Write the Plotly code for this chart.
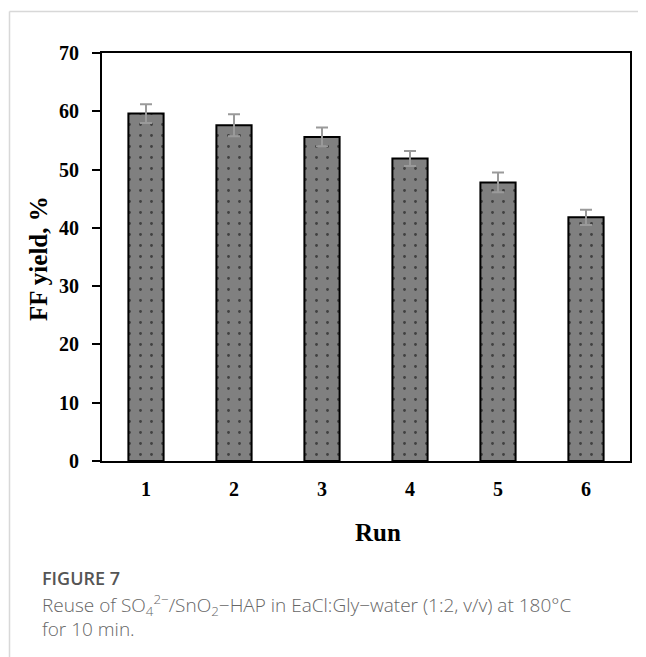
import plotly.graph_objects as go

runs = ["1", "2", "3", "4", "5", "6"]
ff_yield = [59.6, 57.6, 55.6, 51.9, 47.8, 41.8]
ff_err = [1.6, 1.9, 1.6, 1.3, 1.7, 1.3]
y_ticks = [0, 10, 20, 30, 40, 50, 60, 70]

OFF = 8  # page body margin
W, H = 646 - OFF, 657 - OFF
L, R, T, B = 102 - OFF, 630 - OFF, 53 - OFF, 461 - OFF
pw, ph = R - L, B - T


def px(x):
    return (x - OFF - L) / pw


def py(y):
    return (B - (y - OFF)) / ph


fig = go.Figure()
fig.add_trace(go.Bar(
    x=runs, y=ff_yield,
    width=0.4,
    marker=dict(
        color="#808080",
        line=dict(color="#000000", width=2),
        pattern=dict(shape=".", fgcolor="#000000", bgcolor="#808080",
                     size=11, solidity=0.05, fillmode="overlay"),
    ),
    error_y=dict(type="data", array=ff_err, visible=True,
                 color="#9a9a9a", thickness=2, width=6),
    showlegend=False,
))

serif = "Liberation Serif"
fig.update_layout(
    width=W, height=H,
    margin=dict(l=L, r=W - R, t=T, b=H - B),
    paper_bgcolor="white", plot_bgcolor="white",
    xaxis=dict(
        showline=True, linecolor="#000000", linewidth=2, mirror=True,
        ticks="", showgrid=False, zeroline=False,
        tickfont=dict(family=serif, size=20, color="#000000", weight="bold"),
        ticklabelstandoff=9,
    ),
    yaxis=dict(
        range=[0, 70], tickvals=y_ticks,
        showline=True, linecolor="#000000", linewidth=2, mirror=True,
        ticks="outside", ticklen=8, tickwidth=2, tickcolor="#000000",
        showgrid=False, zeroline=False,
        tickfont=dict(family=serif, size=20, color="#000000", weight="bold"),
        ticklabelstandoff=9,
    ),
    font=dict(family=serif),
)

# axis titles
fig.add_annotation(text="<b>Run</b>", x=px(378), y=py(532), xref="paper", yref="paper",
                   showarrow=False, font=dict(family=serif, size=25, color="#000000"),
                   xanchor="center", yanchor="middle")
fig.add_annotation(text="<b>FF yield, %</b>", x=px(38), y=py(259), xref="paper", yref="paper",
                   showarrow=False, textangle=-90,
                   font=dict(family=serif, size=25, color="#000000"),
                   xanchor="center", yanchor="middle")

# caption
cap_font = "Open Sans"
fig.add_annotation(text="FIGURE 7", x=px(40), y=py(578), xref="paper", yref="paper",
                   showarrow=False, xanchor="left", yanchor="middle",
                   font=dict(family=cap_font, size=18, color="#555555", weight=600))
fig.add_annotation(text="Reuse of SO<sub>4</sub><sup>2−</sup>/SnO<sub>2</sub>−HAP in EaCl:Gly−water (1:2, v/v) at 180°C",
                   x=px(40), y=py(605), xref="paper", yref="paper",
                   showarrow=False, xanchor="left", yanchor="middle",
                   font=dict(family=cap_font, size=19, color="#666666", weight=300))
fig.add_annotation(text="for 10 min.", x=px(40), y=py(629), xref="paper", yref="paper",
                   showarrow=False, xanchor="left", yanchor="middle",
                   font=dict(family=cap_font, size=19, color="#666666", weight=300))

# card border
fig.add_shape(type="line", xref="paper", yref="paper",
              x0=px(9.5), x1=px(9.5), y0=py(11.5), y1=py(670),
              line=dict(color="#d8d8d8", width=1.5))
fig.add_shape(type="line", xref="paper", yref="paper",
              x0=px(9.5), x1=px(660), y0=py(11.5), y1=py(11.5),
              line=dict(color="#d8d8d8", width=1.5))

fig.write_html("out.html")
